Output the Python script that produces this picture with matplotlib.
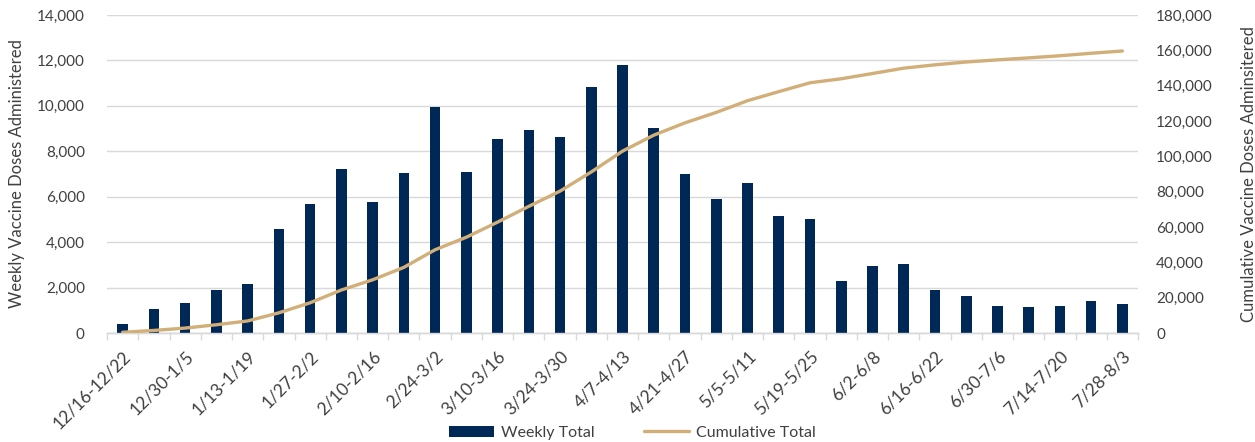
import matplotlib
matplotlib.use("Agg")
import matplotlib.pyplot as plt
import numpy as np
from matplotlib.ticker import FuncFormatter, MultipleLocator

weeks = ["12/16-12/22", "12/23-12/29", "12/30-1/5", "1/6-1/12", "1/13-1/19", "1/20-1/26",
         "1/27-2/2", "2/3-2/9", "2/10-2/16", "2/17-2/23", "2/24-3/2", "3/3-3/9",
         "3/10-3/16", "3/17-3/23", "3/24-3/30", "3/31-4/6", "4/7-4/13", "4/14-4/20",
         "4/21-4/27", "4/28-5/4", "5/5-5/11", "5/12-5/18", "5/19-5/25", "5/26-6/1",
         "6/2-6/8", "6/9-6/15", "6/16-6/22", "6/23-6/29", "6/30-7/6", "7/7-7/13",
         "7/14-7/20", "7/21-7/27", "7/28-8/3"]
weekly_total = [400, 1050, 1340, 1880, 2150, 4600, 5690, 7240, 5760, 7040, 9970,
                7100, 8540, 8940, 8620, 10850, 11800, 9020, 6990, 5890, 6620, 5140,
                5010, 2280, 2970, 3030, 1880, 1620, 1200, 1130, 1200, 1410, 1280]
cumulative_total = [400, 1450, 2790, 4670, 6820, 11420, 17110, 24350, 30110, 37150,
                    47120, 54220, 62760, 71700, 80320, 91170, 102970, 111990, 118980,
                    124870, 131490, 136630, 141640, 143920, 146890, 149920, 151800,
                    153420, 154620, 155750, 156950, 158360, 159640]

navy = "#002856"
tan = "#D2AF78"
grid = "#D9D9D9"
txt = "#404040"

plt.rcParams['font.family'] = ['Lato', 'DejaVu Sans']

fig = plt.figure(figsize=(12.55, 4.42), dpi=100)
ax = fig.add_axes([0.0853, 0.2466, 0.8215, 0.7194])
ax2 = ax.twinx()

x = np.arange(len(weeks))
bars = ax.bar(x, weekly_total, width=0.34, color=navy, zorder=3, label="Weekly Total")
line, = ax2.plot(x, cumulative_total, color=tan, lw=2.4, solid_joinstyle='round',
                 solid_capstyle='round', label="Cumulative Total", zorder=4)

ax.set_xlim(-0.5, len(weeks) - 0.5)
ax.set_ylim(0, 14000)
ax2.set_ylim(0, 180000)
ax.yaxis.set_major_locator(MultipleLocator(2000))
ax2.yaxis.set_major_locator(MultipleLocator(20000))
fmt = FuncFormatter(lambda v, p: f"{int(v):,}")
ax.yaxis.set_major_formatter(fmt)
ax2.yaxis.set_major_formatter(fmt)

ax.grid(axis='y', color=grid, lw=1.0, zorder=0)
ax.set_axisbelow(True)
for a in (ax, ax2):
    for s in ('top', 'left', 'right'):
        a.spines[s].set_visible(False)
    a.spines['bottom'].set_color(grid)
    a.spines['bottom'].set_linewidth(1.0)

ax.tick_params(axis='y', length=0, pad=16, labelsize=11, labelcolor=txt)
ax2.tick_params(axis='y', length=0, pad=13, labelsize=11, labelcolor=txt)

# major ticks: labels every other week; minor ticks: category boundaries
ax.set_xticks(x[::2])
ax.set_xticklabels(weeks[::2], rotation=45, ha='right', rotation_mode='anchor',
                   fontsize=12.5, color=txt)
ax.tick_params(axis='x', which='major', length=0, pad=11)
ax.set_xticks(np.arange(-0.5, len(weeks), 1.0), minor=True)
ax.tick_params(axis='x', which='minor', length=5, color=grid, width=1.0)

ax.set_ylabel("Weekly Vaccine Doses Administered", fontsize=12, color=txt, labelpad=10)
ax2.set_ylabel("Cumulative Vaccine Doses Adminsitered", fontsize=12, color=txt,
               rotation=90, labelpad=14)
ax.yaxis.set_label_coords(-0.08, 0.5)
ax2.yaxis.set_label_coords(1.1, 0.5)

fig.legend(handles=[bars, line], labels=["Weekly Total", "Cumulative Total"],
           loc='center', bbox_to_anchor=(0.504, 0.021), ncol=2, frameon=False,
           fontsize=11.5, labelcolor=txt, columnspacing=3.1, handlelength=2.8,
           handletextpad=0.45, borderpad=0, borderaxespad=0)

fig.savefig("out.png", dpi=100)
